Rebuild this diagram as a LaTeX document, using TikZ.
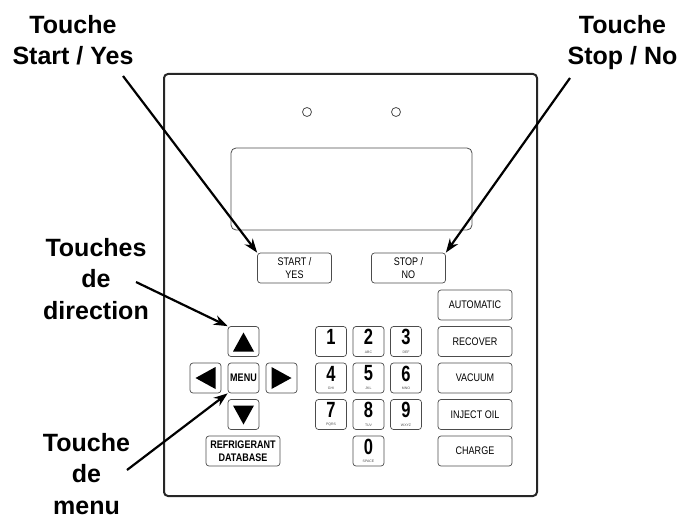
\documentclass[tikz,border=0pt]{standalone}
\usepackage{fontspec}
\setmainfont{Liberation Sans}
\newfontfamily\keyfont[FakeStretch=0.82]{Liberation Sans}
\newfontfamily\digitfont[FakeStretch=0.75]{Liberation Sans}
\usetikzlibrary{arrows.meta,positioning}

\tikzset{
  callout/.style={font=\fontsize{25}{31.5}\selectfont\bfseries, align=center,
                  anchor=north, inner sep=0pt},
  pointer/.style={line width=2.2pt, -{Stealth[length=14pt, width=10pt]}},
  keybox/.style={draw=black!70, line width=0.7pt, rounded corners=3pt,
                 minimum width=31pt, minimum height=30pt, inner sep=0pt},
  widekey/.style={keybox, minimum width=74pt, align=center,
                  font=\keyfont\fontsize{11}{12.5}\selectfont},
  digitnum/.style={inner sep=0pt, font=\digitfont\bfseries\fontsize{22}{22}\selectfont},
  digitabc/.style={inner sep=0pt, text=black!70, font=\fontsize{3.5}{4}\selectfont},
}

% one key of the number pad: name, position, digit, letters
\newcommand{\padkey}[4]{%
  \node[keybox] (#1) at (#2) {};
  \node[digitnum] (#1n) at ([yshift=4.5pt]#1.center) {#3};
  \node[digitabc] (#1l) at ([yshift=-10.5pt]#1.center) {#4};}

\begin{document}
\begin{tikzpicture}[x=1pt, y=-1pt]
  \useasboundingbox (0,0) rectangle (681,519);

  % front panel, lamps and display
  \draw[line width=2pt, draw=black!85, rounded corners=4pt] (164,74) rectangle (537,496);
  \draw[black!70, line width=0.8pt] (307,112) circle (4.5);
  \draw[black!70, line width=0.8pt] (396,112) circle (4.5);
  \draw[black!70, line width=0.8pt, rounded corners=5pt] (231,148) rectangle (472,230);

  % start / stop keys
  \node[widekey] (start) at (294.5,268) {START /\\YES};
  \node[widekey] (stop) at (408.5,268) {STOP /\\NO};

  % direction keys
  \node[keybox] (up) at (243.5,341.5) {};
  \node[keybox, font=\keyfont\bfseries\fontsize{11}{12.5}\selectfont] (menu) at (243.5,378) {MENU};
  \node[keybox] (left) at (205.5,378) {};
  \node[keybox] (right) at (281.5,378) {};
  \node[keybox] (down) at (243.5,414.5) {};
  \fill[shift={(up.center)}] (0,-9) -- (10.5,10) -- (-10.5,10) -- cycle;
  \fill[shift={(down.center)}] (0,10) -- (10.5,-9) -- (-10.5,-9) -- cycle;
  \fill[shift={(left.center)}] (-10,0) -- (10,-11) -- (10,11) -- cycle;
  \fill[shift={(right.center)}] (10,0) -- (-10,-11) -- (-10,11) -- cycle;
  \node[widekey, font=\keyfont\bfseries\fontsize{11}{12.5}\selectfont] (refrig) at (243,451) {REFRIGERANT\\DATABASE};

  % number pad
  \padkey{k1}{331,341.5}{1}{}
  \padkey{k2}{368.5,341.5}{2}{ABC}
  \padkey{k3}{406,341.5}{3}{DEF}
  \padkey{k4}{331,378}{4}{GHI}
  \padkey{k5}{368.5,378}{5}{JKL}
  \padkey{k6}{406,378}{6}{MNO}
  \padkey{k7}{331,414.5}{7}{PQRS}
  \padkey{k8}{368.5,414.5}{8}{TUV}
  \padkey{k9}{406,414.5}{9}{WXYZ}
  \padkey{k0}{368.5,451}{0}{SPACE}

  % function keys
  \node[widekey] (auto) at (475,305) {AUTOMATIC};
  \node[widekey] (recover) at (475,341.5) {RECOVER};
  \node[widekey] (vacuum) at (475,378) {VACUUM};
  \node[widekey] (inject) at (475,414.5) {INJECT OIL};
  \node[widekey] (charge) at (475,451) {CHARGE};

  % callouts
  \node[callout] (lstart) at (73,15) {Touche\\Start / Yes};
  \node[callout] (lstop) at (622.5,15) {Touche\\Stop / No};
  \node[callout] (ldir) at (96,238) {Touches\\de\\direction};
  \node[callout] (lmenu) at (86.5,433) {Touche\\de\\menu};
  \coordinate (pstart) at (123,76);
  \coordinate (pstop) at (570,78);
  \coordinate (pdir) at (136,282);
  \coordinate (pmenu) at (127,470);
  \draw[pointer] (pstart) -- (start.north west);
  \draw[pointer] (pstop) -- (stop.north east);
  \draw[pointer] (pdir) -- (up.north west);
  \draw[pointer] (pmenu) -- (menu.south west);
\end{tikzpicture}
\end{document}
